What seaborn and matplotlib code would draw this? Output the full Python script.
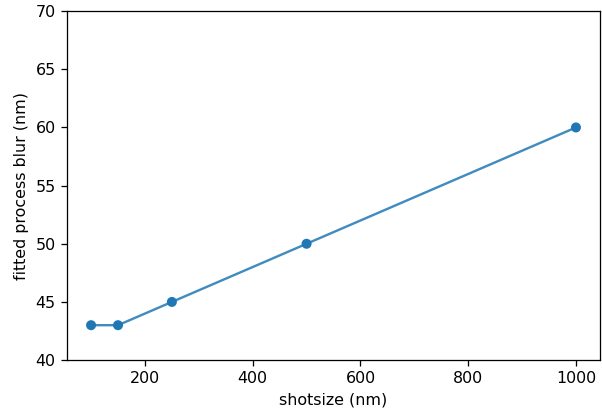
import matplotlib
matplotlib.use("Agg")
import matplotlib.pyplot as plt
import seaborn as sns
import pandas as pd

# shot size vs fitted process blur
shotsize_nm = [100, 150, 250, 500, 1000]
blur_nm = [43, 43, 45, 50, 60]

df = pd.DataFrame({"shotsize": shotsize_nm, "blur": blur_nm})

scale = 1.145
plt.rcParams.update({
    "font.size": 10 * scale,
    "axes.linewidth": 0.8 * scale,
    "xtick.major.width": 0.8 * scale,
    "ytick.major.width": 0.8 * scale,
    "xtick.major.size": 3.5 * scale,
    "ytick.major.size": 3.5 * scale,
    "xtick.major.pad": 3.5 * scale,
    "ytick.major.pad": 3.5 * scale,
    "axes.labelpad": 4 * scale,
})

fig = plt.figure(figsize=(6.02, 4.12), dpi=100)
ax = fig.add_axes([0.111, 0.126, 0.886, 0.847])

sns.lineplot(data=df, x="shotsize", y="blur", ax=ax, color="#1f77b4", alpha=0.85, linewidth=1.5 * scale)
sns.scatterplot(data=df, x="shotsize", y="blur", ax=ax, color="#1f77b4", s=52, edgecolor="none", zorder=3)

ax.set_ylim(40, 70)
ax.set_xlabel("shotsize (nm)")
ax.set_ylabel("fitted process blur (nm)")

fig.savefig("out.png", dpi=100)
